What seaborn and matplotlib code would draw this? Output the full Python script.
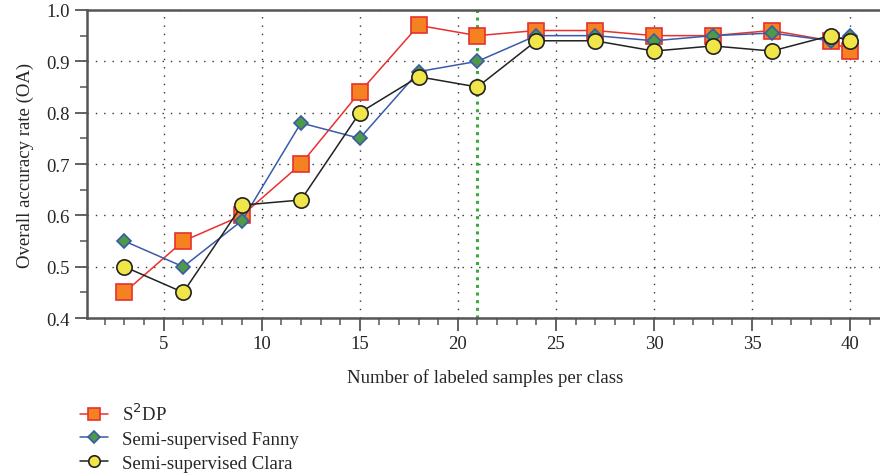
import numpy as np
import matplotlib
matplotlib.use("Agg")
import matplotlib.pyplot as plt
from matplotlib.ticker import MultipleLocator
import pandas as pd
import seaborn as sns

# datos
samples = [3, 6, 9, 12, 15, 18, 21, 24, 27, 30, 33, 36, 39, 40]
s2dp = [0.45, 0.55, 0.60, 0.70, 0.84, 0.97, 0.95, 0.96, 0.96, 0.95, 0.95, 0.96, 0.94, 0.92]
fanny = [0.55, 0.50, 0.59, 0.78, 0.75, 0.88, 0.90, 0.95, 0.95, 0.94, 0.95, 0.955, 0.94, 0.95]
clara = [0.50, 0.45, 0.62, 0.63, 0.80, 0.87, 0.85, 0.94, 0.94, 0.92, 0.93, 0.92, 0.95, 0.94]
labels = ["S$^2$DP", "Semi-supervised Fanny", "Semi-supervised Clara"]
cutoff = 21

df = pd.DataFrame({"samples": samples * 3,
                   "oa": s2dp + fanny + clara,
                   "method": [labels[0]] * len(samples) + [labels[1]] * len(samples) + [labels[2]] * len(samples)})

sns.set_style("white")
plt.rcParams['font.family'] = ['Liberation Serif', 'DejaVu Serif']

fig = plt.figure(figsize=(8.8, 4.77), dpi=100)
ax = fig.add_axes([0.099, 0.331, 0.905, 0.646])

estilos = {
    labels[0]: dict(color="#e8312f", marker="s", mfc="#f58220", mec="#e8312f", ms=11, z=3),
    labels[1]: dict(color="#3a5ba8", marker="D", mfc="#4e9a47", mec="#3a5ba8", ms=7.5, z=4),
    labels[2]: dict(color="#222222", marker="o", mfc="#f0e64a", mec="#222222", ms=11, z=5),
}

for m in labels:
    st = estilos[m]
    sns.lineplot(data=df[df["method"] == m], x="samples", y="oa", ax=ax,
                 color=st["color"], marker=st["marker"], markersize=st["ms"],
                 markerfacecolor=st["mfc"], markeredgecolor=st["mec"], markeredgewidth=1.2,
                 linewidth=1.1, label=m, zorder=st["z"])

ax.axvline(cutoff, color="#3aaa3a", linestyle=(0, (1, 1.5)), linewidth=2.2, zorder=2)

ax.set_xlim(1.1, 41.7)
ax.set_ylim(0.4, 1.0)
ax.xaxis.set_major_locator(MultipleLocator(5))
ax.xaxis.set_minor_locator(MultipleLocator(1))
ax.yaxis.set_major_locator(MultipleLocator(0.1))
ax.yaxis.set_minor_locator(MultipleLocator(0.05))
ax.set_yticklabels([f"{v:.1f}" for v in ax.get_yticks()])
ax.grid(True, which="major", color="#333333", linestyle=(0, (1, 5)), linewidth=1.0)
ax.tick_params(which="major", direction="out", length=9, width=1.3, color="#555555",
               labelsize=13.5, left=True, bottom=True)
ax.tick_params(which="minor", direction="out", length=5, width=1.1, color="#555555",
               left=True, bottom=True)

for s in ["left", "bottom", "top"]:
    ax.spines[s].set_color("#555555")
    ax.spines[s].set_linewidth(1.8)
ax.spines["right"].set_visible(False)

ax.set_xlabel("Number of labeled samples per class", fontsize=13.5, labelpad=11)
ax.set_ylabel("Overall accuracy rate (OA)", fontsize=13.5, labelpad=9)

ax.legend(loc="upper left", bbox_to_anchor=(-0.018, -0.25), frameon=False, fontsize=13.5,
          markerscale=0.75, handlelength=1.5, handletextpad=0.7, labelspacing=0.36,
          borderaxespad=0)

fig.savefig("out.png", dpi=100)
